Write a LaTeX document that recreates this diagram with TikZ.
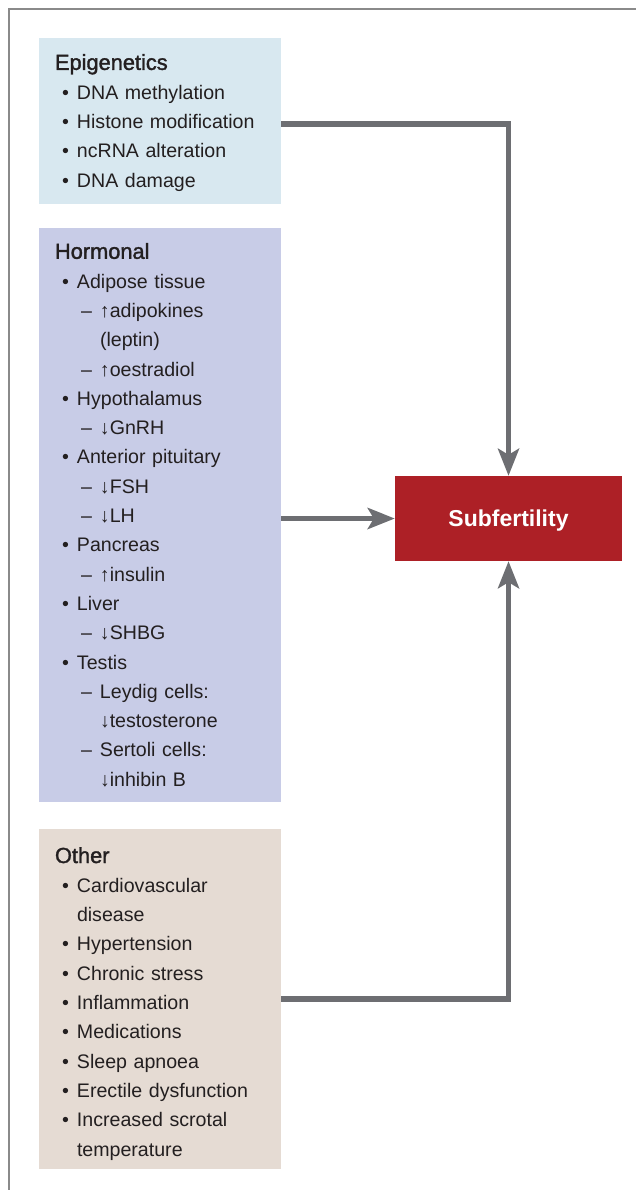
\documentclass[tikz,border=0pt]{standalone}
\usepackage{fontspec}
\setmainfont{Liberation Sans}
\newfontfamily\headfont[FakeBold=1.5]{Liberation Sans}
\usetikzlibrary{arrows.meta, calc}

\definecolor{epicol}{HTML}{D8E8F0}
\definecolor{horcol}{HTML}{C8CCE7}
\definecolor{othcol}{HTML}{E5DBD3}
\definecolor{subcol}{HTML}{AD2026}
\definecolor{linkgray}{HTML}{6D6E72}
\definecolor{framegray}{HTML}{8A8A8A}
\definecolor{txtcol}{HTML}{231F20}

\newcommand{\hd}[2][20pt]{\rule{0pt}{#1}{\headfont\fontsize{21.8}{29.3}\selectfont #2}}
\newcommand{\itm}[1]{\hspace*{7pt}\makebox[15pt][l]{\textbullet}#1}
\newcommand{\subitm}[1]{\hspace*{26pt}\makebox[19pt][l]{–}#1}
\newcommand{\cont}[1]{\hspace*{45pt}#1}
\newcommand{\cnt}[1]{\hspace*{22pt}#1}
\newcommand{\lastln}{\rule[-5pt]{0pt}{5pt}}

\begin{document}
\begin{tikzpicture}[x=1pt, y=-1pt,
    catbox/.style={minimum width=242pt, text width=210pt, inner xsep=16pt, inner ysep=0pt,
        align=left, text=txtcol, font=\fontsize{19.6}{29.3}\selectfont},
    feed/.style={draw=linkgray, line width=5.5pt, -{Stealth[length=27pt, width=21pt, inset=6pt]}},
    frameline/.style={draw=framegray, line width=1.5pt}]
    \useasboundingbox (0,0) rectangle (636,1190);

    % outer frame
    \draw[frameline] (9,1190) |- (636,9);

    % categories
    \node[catbox, fill=epicol, minimum height=166pt] (epi) at (160,121) {
        \hd{Epigenetics}\\
        \itm{DNA methylation}\\
        \itm{Histone modification}\\
        \itm{ncRNA alteration}\\
        \itm{DNA damage}\lastln};
    \node[catbox, fill=horcol, minimum height=574pt] (hor) at (160,515) {
        \hd{Hormonal}\\
        \itm{Adipose tissue}\\
        \subitm{↑adipokines}\\
        \cont{(leptin)}\\
        \subitm{↑oestradiol}\\
        \itm{Hypothalamus}\\
        \subitm{↓GnRH}\\
        \itm{Anterior pituitary}\\
        \subitm{↓FSH}\\
        \subitm{↓LH}\\
        \itm{Pancreas}\\
        \subitm{↑insulin}\\
        \itm{Liver}\\
        \subitm{↓SHBG}\\
        \itm{Testis}\\
        \subitm{Leydig cells:}\\
        \cont{↓testosterone}\\
        \subitm{Sertoli cells:}\\
        \cont{↓inhibin B}\lastln};
    \node[catbox, fill=othcol, minimum height=340pt] (oth) at (160,999) {
        \hd[26pt]{Other}\\
        \itm{Cardiovascular}\\
        \cnt{disease}\\
        \itm{Hypertension}\\
        \itm{Chronic stress}\\
        \itm{Inflammation}\\
        \itm{Medications}\\
        \itm{Sleep apnoea}\\
        \itm{Erectile dysfunction}\\
        \itm{Increased scrotal}\\
        \cnt{temperature}\lastln};

    % outcome
    \node[fill=subcol, minimum width=227pt, minimum height=85pt, text=white,
        text height=16.5pt, text depth=0pt,
        font=\fontsize{23}{27}\selectfont\bfseries] (sub) at (508.5,518.5) {Subfertility};

    % connectors
    \draw[feed] ([yshift=-3pt]epi.east) -| (sub.north);
    \draw[feed] (hor.east |- sub.west) -- (sub.west);
    \draw[feed] (oth.east) -| (sub.south);
\end{tikzpicture}
\end{document}
